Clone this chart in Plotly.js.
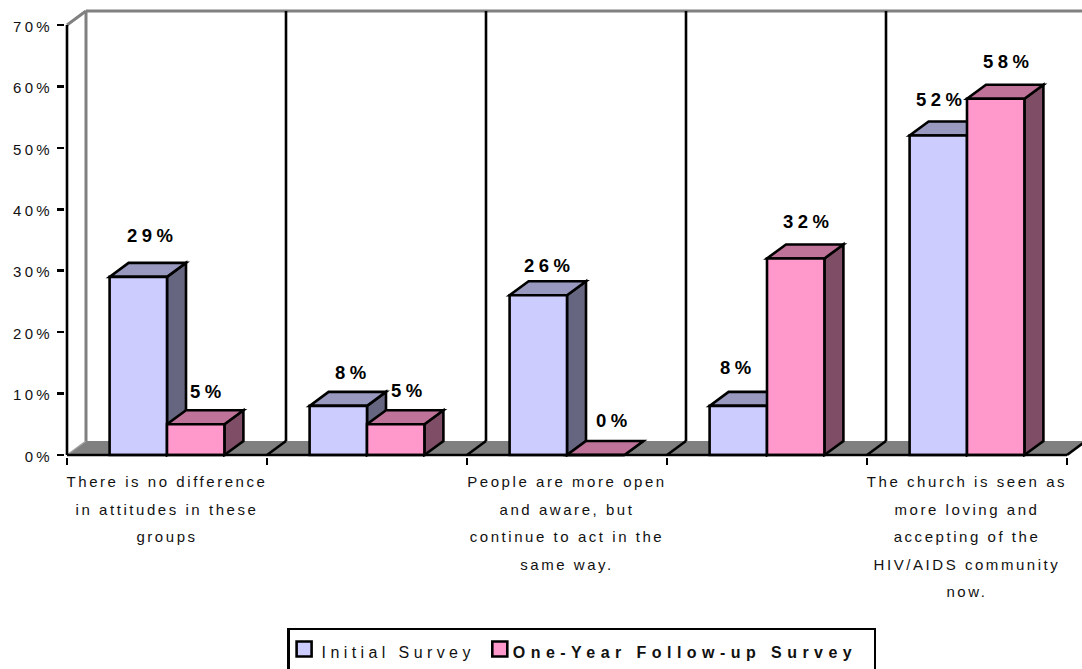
<!DOCTYPE html>
<html>
<head>
<meta charset="utf-8">
<script src="https://cdn.plot.ly/plotly-3.0.1.min.js"></script>
<style>
  html, body { margin: 0; padding: 0; background: #fff; }
  #chart { width: 1082px; height: 669px; }
  .xtick text { letter-spacing: 2.55px; }
  .ytick text { letter-spacing: 3.3px; }
  .annotation-text { letter-spacing: 4.4px; }
  .legendtext { letter-spacing: 4.4px; }
  .legendtext:has(tspan[style*="bold"]) { letter-spacing: 5.45px; }
</style>
</head>
<body>
<div id="chart"></div>
<script>
// Survey results
const categories = [
  'There is no difference<br>in attitudes in these<br>groups',
  ' ',
  'People are more open<br>and aware, but<br>continue to act in the<br>same way.',
  '  ',
  'The church is seen as<br>more loving and<br>accepting of the<br>HIV/AIDS community<br>now.'
];
const initialSurvey = [29, 8, 26, 8, 52];
const followUpSurvey = [5, 5, 0, 32, 58];
const yTicks = [0, 10, 20, 30, 40, 50, 60, 70];
const yTickLabels = ['0%', '10%', '20%', '30%', '40%', '50%', '60%', '70%'];

// Pixel nudges for the value labels, measured from each bar's front-top centre
const initialLabelShift = [[14, 41], [15, 33], [11, 30], [0, 38], [3, 36]];
const followUpLabelShift = [[12, 33], [13, 34], [18, 35], [12, 37], [12, 37]];

// Scales and the oblique projection of the 3-D look
const pxPerGroup = 200, pxPerPercent = 430 / 70;
const depthX = 19 / pxPerGroup, depthY = 14 / pxPerPercent;
const barWidth = 0.287, pad = 2;
const left = 67, zeroY = 455, W = 1082, H = 669, topY = 9;
const edge = 2.6;

const colors = {
  initial: { front: '#CCCCFF', top: '#9999BF', side: '#666680' },
  followUp: { front: '#FF99CC', top: '#BF7399', side: '#804D66' }
};

const poly = (pts) => 'M' + pts.map(p => p[0] + ',' + p[1]).join('L') + 'Z';
const face = (pts, fill) => ({
  type: 'path', xref: 'x', yref: 'y', layer: 'below', path: poly(pts),
  fillcolor: fill, line: { color: '#000', width: edge }
});
const rule = (x0, y0, x1, y1, color, width, layer) => ({
  type: 'line', xref: 'x', yref: 'y', layer: layer || 'below', x0, y0, x1, y1,
  line: { color, width }
});

const shapes = [];
const first = -0.5, last = categories.length - 0.5;
const maxY = yTicks[yTicks.length - 1];

// Floor and back wall
shapes.push({
  type: 'path', xref: 'x', yref: 'y', layer: 'below',
  path: poly([[first, 0], [last, 0], [last + depthX, depthY], [first + depthX, depthY]]),
  fillcolor: '#808080', line: { width: 0 }
});
shapes.push(rule(first, 0, first + depthX, depthY, '#A0A0A0', 1.5));
shapes.push(rule(first + depthX, depthY, first + depthX, maxY + depthY, '#808080', 3));
shapes.push(rule(first, maxY, first + depthX, maxY + depthY, '#808080', 3));
shapes.push(rule(first + depthX, maxY + depthY, last + depthX, maxY + depthY, '#808080', 3));
for (let i = 1; i <= categories.length; i++) {
  const x = first + i;
  shapes.push(rule(x, 0, x + depthX, depthY, '#000', edge));
  if (i < categories.length) shapes.push(rule(x + depthX, depthY, x + depthX, maxY + depthY, '#000', edge));
}

// Top and side faces behind the front rectangles
function addDepthFaces(values, startOffset, palette) {
  values.forEach((v, i) => {
    const x0 = i + startOffset, x1 = x0 + barWidth;
    shapes.push(face([[x1, 0], [x1 + depthX, depthY], [x1 + depthX, v + depthY], [x1, v]], palette.side));
    shapes.push(face([[x0, v], [x1, v], [x1 + depthX, v + depthY], [x0 + depthX, v + depthY]], palette.top));
  });
}
addDepthFaces(initialSurvey, -barWidth, colors.initial);
addDepthFaces(followUpSurvey, 0, colors.followUp);

// Axis lines sit over the bars' feet
shapes.push(rule(first, 0, first, maxY, '#000', edge, 'above'));
shapes.push(rule(first, 0, last, 0, '#000', edge, 'above'));

// Value labels
const annotations = [];
function addLabels(values, startOffset, shifts) {
  values.forEach((v, i) => annotations.push({
    x: i + startOffset + barWidth / 2, y: v, xref: 'x', yref: 'y',
    text: '<b>' + v + '%</b>', showarrow: false, xanchor: 'center', yanchor: 'middle',
    xshift: shifts[i][0], yshift: shifts[i][1],
    font: { family: 'Liberation Sans, Arial, sans-serif', size: 18.5, color: '#000' }
  }));
}
addLabels(initialSurvey, -barWidth, initialLabelShift);
addLabels(followUpSurvey, 0, followUpLabelShift);

const bar = (name, values, color) => ({
  type: 'bar', name, x: categories, y: values,
  marker: { color, line: { color: '#000', width: edge } },
  hoverinfo: 'skip', cliponaxis: false
});

const plotW = W - (left - pad);
const plotH = zeroY + pad - topY;
const layout = {
  width: W, height: H,
  paper_bgcolor: '#fff', plot_bgcolor: 'rgba(0,0,0,0)',
  margin: { l: left - pad, r: 0, t: topY, b: H - zeroY - pad, pad: 0, autoexpand: false },
  barmode: 'group', bargap: 1 - 2 * barWidth, bargroupgap: 0,
  font: { family: 'Liberation Sans, Arial, sans-serif', size: 15, color: '#111' },
  xaxis: {
    type: 'category', categoryorder: 'array', categoryarray: categories,
    range: [first - pad / pxPerGroup, first + plotW / pxPerGroup - pad / pxPerGroup],
    tickson: 'boundaries', tickmode: 'linear', tick0: 0, dtick: 1,
    ticks: 'outside', ticklen: 7, tickwidth: edge, tickcolor: '#000', tickangle: 0,
    showgrid: false, zeroline: false, showline: false, ticklabelstandoff: 14
  },
  yaxis: {
    range: [-pad / pxPerPercent, plotH / pxPerPercent - pad / pxPerPercent],
    tickmode: 'array', tickvals: yTicks, ticktext: yTickLabels,
    ticks: 'outside', ticklen: 7, tickwidth: edge, tickcolor: '#000',
    showgrid: false, zeroline: false, showline: false, ticklabelstandoff: 1
  },
  legend: {
    orientation: 'h', x: (287 - (left - pad)) / plotW, xanchor: 'left',
    y: 1 - (627.5 - topY) / plotH, yanchor: 'top',
    bgcolor: '#fff', bordercolor: '#000', borderwidth: edge,
    font: { family: 'Liberation Sans, Arial, sans-serif', size: 16, color: '#111' },
    itemclick: false, itemdoubleclick: false, traceorder: 'normal'
  },
  shapes, annotations, showlegend: true
};

const traces = [
  bar('Initial Survey', initialSurvey, colors.initial.front),
  bar('<b>One-Year Follow-up Survey</b>', followUpSurvey, colors.followUp.front)
];

// Legend box runs off the bottom of the page; entries are placed by hand inside it
const legendSwatchShift = [-5.5, -8];
const legendTextShift = [-8, -15];
const legendSwatchDrop = 2, legendTextDrop = 5, legendRight = 875, legendBoxHeight = 60;

Plotly.newPlot('chart', traces, layout, { displayModeBar: false, staticPlot: true }).then(gd => {
  // Open up the leading of the wrapped category labels
  gd.querySelectorAll('.xtick text').forEach(t => {
    t.querySelectorAll('tspan.line').forEach((line, n) => line.setAttribute('dy', (n * 27.5) + 'px'));
  });
  // Value-axis labels sit a little below their ticks
  gd.querySelectorAll('.ytick text').forEach(t => {
    t.setAttribute('y', parseFloat(t.getAttribute('y')) + 1.5);
    t.querySelectorAll('tspan.line').forEach(line => line.setAttribute('y', parseFloat(line.getAttribute('y')) + 1.5));
  });
  // Larger swatches, closer to their text
  gd.querySelectorAll('.legend .traces').forEach((item, i) => {
    const dx = legendSwatchShift[i], s = 7.5, dy = legendSwatchDrop;
    item.querySelectorAll('.legendpoints path').forEach(p => {
      p.setAttribute('d', `M${s + dx},${s + dy}H${-s + dx}V${-s + dy}H${s + dx}Z`);
    });
    item.querySelector('.legendtext').setAttribute('transform', `translate(${legendTextShift[i]},${legendTextDrop})`);
  });
  const box = gd.querySelector('.legend .bg');
  const boxLeft = box.getBoundingClientRect().left;
  box.setAttribute('width', legendRight - boxLeft);
  box.setAttribute('height', legendBoxHeight);
});
</script>
</body>
</html>
